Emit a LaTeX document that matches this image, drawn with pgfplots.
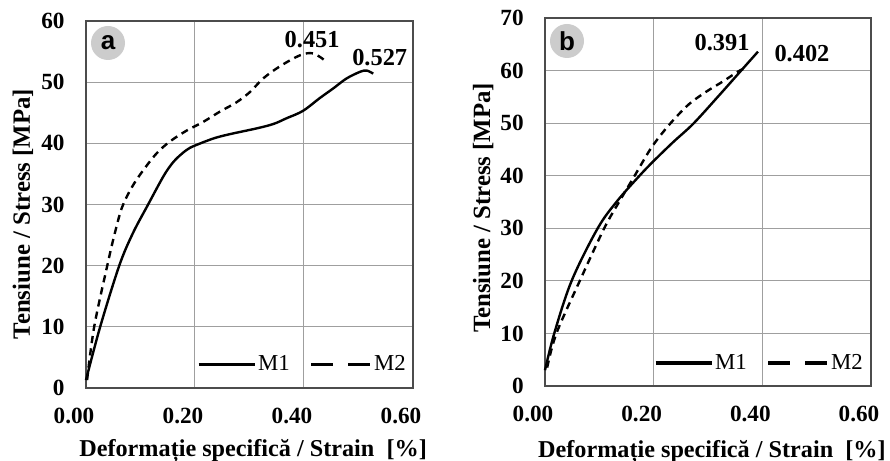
\documentclass[border=0pt]{standalone}
\usepackage{fontspec}
\setmainfont{Liberation Serif}
\newfontfamily\badgefont{Liberation Sans}
\usepackage{pgfplots}
\pgfplotsset{compat=1.18}

\newcommand{\tkfont}{\fontsize{11.6}{12}\selectfont\bfseries}
\newcommand{\lbfont}{\fontsize{12.1}{12}\selectfont\bfseries}

\pgfplotsset{
  panel/.style={
    scale only axis,
    width=163.5pt, height=183.5pt,
    xmin=0, xmax=0.6, ymin=0,
    xtick={0,0.2,0.4,0.6},
    xticklabels={0.00,0.20,0.40,0.60},
    major tick length=0pt,
    grid=major,
    grid style={gray!75, line width=0.5pt},
    axis line style={black!70, line width=0.6pt},
    /pgf/number format/assume math mode=true,
    tick label style={font=\tkfont},
    xticklabel style={anchor=north, inner sep=0pt, yshift=-10pt, xshift=-6pt},
    yticklabel style={anchor=east, inner sep=0pt, xshift=-10.5pt},
    label style={font=\lbfont},
    ylabel style={font=\fontsize{12.4}{12}\selectfont\bfseries},
    xlabel={Deformație specifică / Strain~~[\%]},
    ylabel={Tensiune / Stress [MPa]},
    legend style={draw=none, fill=none, font=\fontsize{11.4}{12}\selectfont,
      legend columns=2, inner sep=0pt,
      nodes={inner sep=1pt},
      /tikz/every even column/.append style={column sep=9pt}},
    clip=false,
  },
  solidl/.style={black, line width=1.2pt, smooth, tension=0.55},
  dashl/.style={black, line width=1.2pt, smooth, tension=0.55, dash pattern=on 3.6pt off 2.6pt},
  legsolid/.style={black, line width=1.6pt,
    legend image code/.code={\draw[##1] (0pt,0pt) -- (28pt,0pt);}},
  legdash/.style={black, line width=1.6pt, dash pattern=on 11pt off 7.5pt,
    legend image code/.code={\draw[##1] (0pt,0pt) -- (29.5pt,0pt);}},
}

\begin{document}
\begin{tikzpicture}
\path[use as bounding box] (0,0) rectangle (445pt,230.5pt);

% panel a
\begin{axis}[panel, at={(43pt,36.5pt)}, anchor=south west,
  ymax=60, ytick={0,10,...,60},
  xlabel style={at={(axis description cs:0.511,-0.188)}, anchor=base},
  ylabel style={at={(axis description cs:-0.193,0.474)}, anchor=center},
  legend style={at={(rel axis cs:0.985,0.065)}, anchor=east}]
\addplot[solidl, forget plot] coordinates {
(0,1.3) (0.026,10) (0.061,20) (0.086,25.3) (0.114,30) (0.142,34.6)
(0.158,36.7) (0.172,38.0) (0.186,39.0) (0.199,39.6) (0.234,40.8)
(0.264,41.5) (0.316,42.5) (0.345,43.2) (0.368,44.1) (0.398,45.3)
(0.429,47.4) (0.454,49.0) (0.478,50.6) (0.503,51.7) (0.515,51.9) (0.527,51.4)
};
\addplot[dashl, forget plot] coordinates {
(0.002,1.3) (0.015,10) (0.039,20) (0.052,25) (0.066,29.5) (0.084,32.8)
(0.105,35.6) (0.130,38.4) (0.154,40.3) (0.185,42.1) (0.215,43.5)
(0.246,45.2) (0.276,46.7) (0.301,48.4) (0.325,50.6) (0.356,52.6)
(0.393,54.4) (0.417,54.7) (0.439,53.5)
};
\addlegendimage{legsolid}
\addlegendentry{M1}
\addlegendimage{legdash}
\addlegendentry{M2}
\node[font=\fontsize{12.2}{12}\selectfont\bfseries] at (axis cs:0.415,56.9) {0.451};
\node[font=\fontsize{12.2}{12}\selectfont\bfseries] at (axis cs:0.539,54.1) {0.527};
\end{axis}

% panel b
\begin{axis}[panel, at={(272.5pt,37.5pt)}, anchor=south west,
  width=163pt, height=184pt,
  ymax=70, ytick={0,10,...,70},
  xlabel style={at={(axis description cs:0.512,-0.193)}, anchor=base},
  ylabel style={at={(axis description cs:-0.190,0.484)}, anchor=center},
  legend style={at={(rel axis cs:0.982,0.0625)}, anchor=east}]
\addplot[solidl, forget plot] coordinates {
(0,3.0) (0.017,10) (0.049,20) (0.097,30) (0.133,35.2) (0.174,40)
(0.200,42.8) (0.236,46.4) (0.273,49.9) (0.318,55.0) (0.361,60) (0.392,63.6)
};
\addplot[dashl, forget plot] coordinates {
(0.004,3.5) (0.021,10) (0.064,20) (0.109,30) (0.138,35.3) (0.165,40)
(0.193,44.9) (0.215,48.0) (0.239,50.9) (0.266,53.7) (0.297,56.0)
(0.327,57.9) (0.355,59.8) (0.367,60.4)
};
\addlegendimage{legsolid}
\addlegendentry{M1}
\addlegendimage{legdash}
\addlegendentry{M2}
\node[font=\fontsize{12.2}{12}\selectfont\bfseries] at (axis cs:0.326,65.4) {0.391};
\node[font=\fontsize{12.2}{12}\selectfont\bfseries] at (axis cs:0.473,63.3) {0.402};
\end{axis}

% panel badges
\fill[gray!40] (54pt,209pt) circle (8.5pt);
\node[font=\badgefont\fontsize{13}{12}\selectfont\bfseries] at (54pt,209pt) {a};
\fill[gray!40] (283.5pt,210pt) circle (8.5pt);
\node[font=\badgefont\fontsize{13}{12}\selectfont\bfseries] at (283.5pt,210pt) {b};
\end{tikzpicture}
\end{document}
